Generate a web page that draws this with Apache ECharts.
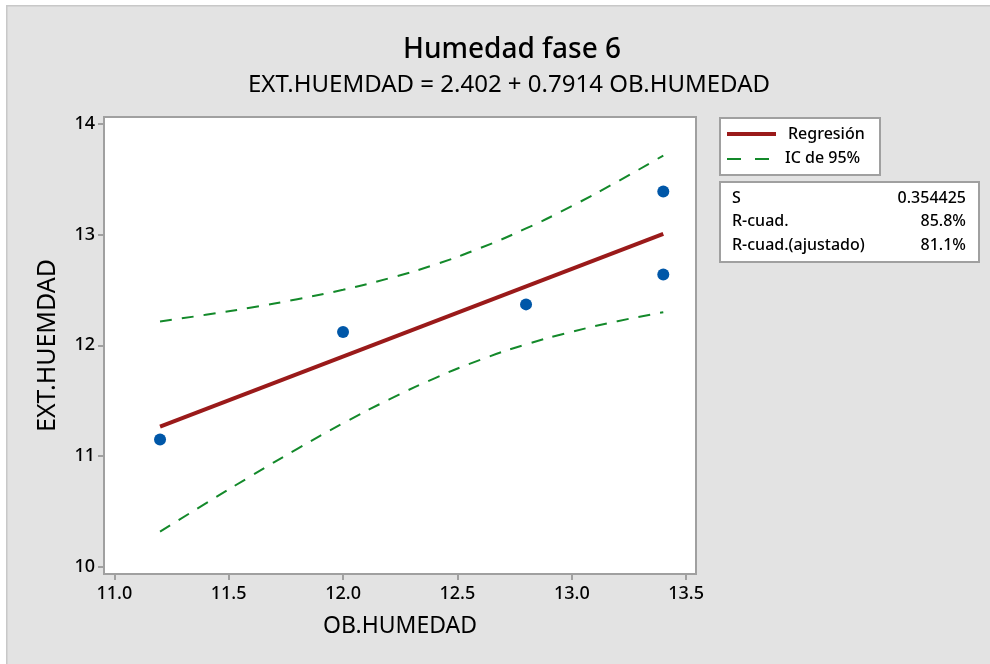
<!DOCTYPE html>
<html><head><meta charset="utf-8">
<script src="https://cdn.jsdelivr.net/npm/echarts@6/dist/echarts.min.js"></script>
<style>html,body{margin:0;padding:0;background:#fff}#c{width:990px;height:664px}</style>
</head><body><div id="c"></div>
<script>
const xTicks = [11.0, 11.5, 12.0, 12.5, 13.0, 13.5];
const yTicks = [10, 11, 12, 13, 14];
const obsX = [11.2, 12.0, 12.8, 13.4, 13.4];
const obsY = [11.15, 12.12, 12.37, 13.39, 12.64];
const fitX = [11.2, 13.4];
const fitY = [11.266, 13.007];
const ciX = [11.2, 11.4, 11.6, 11.8, 12.0, 12.2, 12.4, 12.6, 12.8, 13.0, 13.2, 13.4];
const ciUpper = [12.216, 12.276, 12.342, 12.417, 12.502, 12.605, 12.728, 12.879, 13.056, 13.258, 13.480, 13.715];
const ciLower = [10.316, 10.572, 10.822, 11.065, 11.296, 11.509, 11.702, 11.869, 12.008, 12.122, 12.218, 12.299];
const statNames = ['S', 'R-cuad.', 'R-cuad.(ajustado)'];
const statValues = ['0.354425', '85.8%', '81.1%'];

const FONT = '"Noto Sans", "Open Sans", sans-serif';
const zip = (a, b) => a.map((v, i) => [v, b[i]]);

const chart = echarts.init(document.getElementById('c'), null, {renderer: 'canvas'});
const statText = [];
statNames.forEach((n, i) => {
  const y = 198 + i * 23.5;
  statText.push({type: 'text', x: 732, y: y, style: {text: n, font: '500 16px ' + FONT, fill: '#000', verticalAlign: 'middle'}});
  statText.push({type: 'text', x: 966, y: y, style: {text: statValues[i], font: '500 16px ' + FONT, fill: '#000', align: 'right', verticalAlign: 'middle'}});
});

chart.setOption({
  backgroundColor: '#fff',
  animation: false,
  title: [
    {text: 'Humedad fase 6', left: 507, textAlign: 'center', top: 31, textStyle: {fontFamily: FONT, fontSize: 28, fontWeight: 500, color: '#000'}},
    {text: 'EXT.HUEMDAD = 2.402 + 0.7914 OB.HUMEDAD', left: 504, textAlign: 'center', top: 68, textStyle: {fontFamily: FONT, fontSize: 24, fontWeight: 'normal', color: '#000'}}
  ],
  grid: {left: 104, top: 117, right: 294, bottom: 90, show: true, backgroundColor: '#fff', borderColor: '#a0a0a0', borderWidth: 2},
  xAxis: {
    type: 'value', min: 10.955, max: 13.543,
    name: 'OB.HUMEDAD', nameLocation: 'middle', nameGap: 41,
    nameTextStyle: {fontFamily: FONT, fontSize: 23, color: '#000'},
    axisLine: {show: true, lineStyle: {color: '#a0a0a0', width: 2}},
    axisTick: {show: true, length: 6, lineStyle: {color: '#a0a0a0', width: 2}, customValues: xTicks},
    axisLabel: {customValues: xTicks, formatter: v => v.toFixed(1), fontFamily: FONT, fontSize: 18, fontWeight: 500, color: '#000', margin: 11},
    splitLine: {show: false}
  },
  yAxis: {
    type: 'value', min: 9.934, max: 14.063,
    name: 'EXT.HUEMDAD', nameLocation: 'middle', nameGap: 44,
    nameTextStyle: {fontFamily: FONT, fontSize: 25, color: '#000'},
    axisLine: {show: true, lineStyle: {color: '#a0a0a0', width: 2}},
    axisTick: {show: true, length: 6, lineStyle: {color: '#a0a0a0', width: 2}, customValues: yTicks},
    axisLabel: {customValues: yTicks, formatter: v => String(v), fontFamily: FONT, fontSize: 18, fontWeight: 500, color: '#000', margin: 9},
    splitLine: {show: false}
  },
  series: [
    {type: 'line', data: zip(ciX, ciUpper), showSymbol: false, smooth: true, lineStyle: {color: '#13892a', width: 2, type: [12, 10]}, z: 2},
    {type: 'line', data: zip(ciX, ciLower), showSymbol: false, smooth: true, lineStyle: {color: '#13892a', width: 2, type: [12, 10]}, z: 2},
    {type: 'line', data: zip(fitX, fitY), showSymbol: false, lineStyle: {color: '#9a1a1a', width: 4}, z: 3},
    {type: 'scatter', data: zip(obsX, obsY), symbolSize: 12, itemStyle: {color: '#0057a8', opacity: 1}, z: 4}
  ],
  graphic: [
    {type: 'rect', left: 6, top: 5, z: -10, shape: {width: 990, height: 664}, style: {fill: '#e3e3e3', stroke: '#c8c8c8', lineWidth: 1.5}, silent: true},
    {type: 'rect', left: 719, top: 117, shape: {width: 160, height: 57}, style: {fill: '#fff', stroke: '#a0a0a0', lineWidth: 2}},
    {type: 'line', shape: {x1: 727, y1: 134, x2: 776, y2: 134}, style: {stroke: '#9a1a1a', lineWidth: 4}},
    {type: 'text', x: 788, y: 134, style: {text: 'Regresión', font: '500 16px ' + FONT, fill: '#000', verticalAlign: 'middle'}},
    {type: 'line', shape: {x1: 727, y1: 159, x2: 776, y2: 159}, style: {stroke: '#13892a', lineWidth: 2, lineDash: [14, 14]}},
    {type: 'text', x: 785, y: 158, style: {text: 'IC de 95%', font: '500 16px ' + FONT, fill: '#000', verticalAlign: 'middle'}},
    {type: 'rect', left: 719, top: 181, shape: {width: 259, height: 80}, style: {fill: '#fff', stroke: '#a0a0a0', lineWidth: 2}}
  ].concat(statText)
});
</script></body></html>
